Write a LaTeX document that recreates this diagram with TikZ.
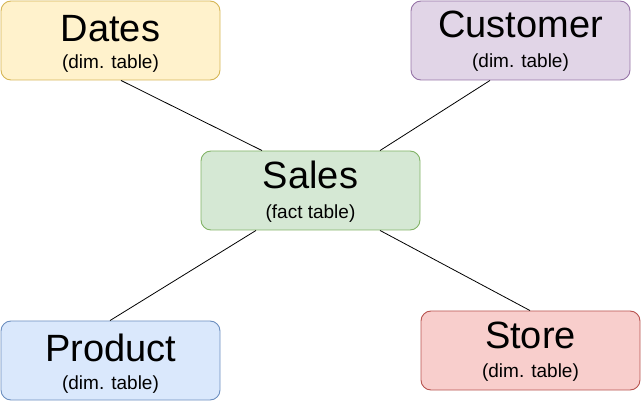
\documentclass[tikz,border=0pt]{standalone}
\usepackage{fontspec}
\setmainfont{Liberation Sans}
\usetikzlibrary{calc}
\definecolor{yfill}{HTML}{FFF2CC}\definecolor{ydraw}{HTML}{D6B656}
\definecolor{pfill}{HTML}{E1D5E7}\definecolor{pdraw}{HTML}{9673A6}
\definecolor{gfill}{HTML}{D5E8D4}\definecolor{gdraw}{HTML}{82B366}
\definecolor{bfill}{HTML}{DAE8FC}\definecolor{bdraw}{HTML}{6C8EBF}
\definecolor{rfill}{HTML}{F8CECC}\definecolor{rdraw}{HTML}{B85450}
\tikzset{
  tbox/.style={rectangle, rounded corners=10pt, minimum width=219pt, minimum height=79pt, inner sep=0pt, line width=0.9pt},
  ttitle/.style={anchor=base, inner sep=0pt, font=\fontsize{38}{38}\selectfont},
  tsub/.style={anchor=base, inner sep=0pt, font=\fontsize{19}{19}\selectfont},
  link/.style={draw=black, line width=0.8pt}
}
\begin{document}
\begin{tikzpicture}[x=1pt,y=-1pt]
\useasboundingbox (0,0) rectangle (641,401);
\node[tbox, fill=yfill, draw=ydraw] (d) at (110.5,40.5) {};
\node[tbox, fill=pfill, draw=pdraw] (c) at (520.5,40.5) {};
\node[tbox, fill=gfill, draw=gdraw] (s) at (310.5,190.5) {};
\node[tbox, fill=bfill, draw=bdraw] (p) at (110.5,360.5) {};
\node[tbox, fill=rfill, draw=rdraw] (st) at (530.5,350.5) {};
\node[ttitle] (dt) at ($(d.center)+(0,1)$) {Dates};
\node[tsub] (ds) at ($(d.center)+(0,28)$) {(dim. table)};
\node[ttitle] (ct) at ($(c.center)+(0,-3)$) {Customer};
\node[tsub] (cs) at ($(c.center)+(0,27)$) {(dim. table)};
\node[ttitle] (sat) at ($(s.center)+(0,-2)$) {Sales};
\node[tsub] (sas) at ($(s.center)+(0,28)$) {(fact table)};
\node[ttitle] (pt) at ($(p.center)+(0,1)$) {Product};
\node[tsub] (ps) at ($(p.center)+(0,29)$) {(dim. table)};
\node[ttitle] (stt) at ($(st.center)+(0,-2)$) {Store};
\node[tsub] (sts) at ($(st.center)+(0,27)$) {(dim. table)};
\coordinate (d1) at ($(d.south)+(10.5,0)$);
\coordinate (s1) at ($(s.north)+(-48.5,0)$);
\coordinate (c1) at ($(c.south)+(-30.5,0)$);
\coordinate (s2) at ($(s.north)+(69.5,0)$);
\coordinate (s3) at ($(s.south)+(-54.5,0)$);
\coordinate (p1) at ($(p.north)+(-0.5,0)$);
\coordinate (s4) at ($(s.south)+(69.5,0)$);
\coordinate (st1) at ($(st.north)+(-0.5,0)$);
\draw[link] (d1) -- (s1);
\draw[link] (c1) -- (s2);
\draw[link] (s3) -- (p1);
\draw[link] (s4) -- (st1);
\end{tikzpicture}
\end{document}
